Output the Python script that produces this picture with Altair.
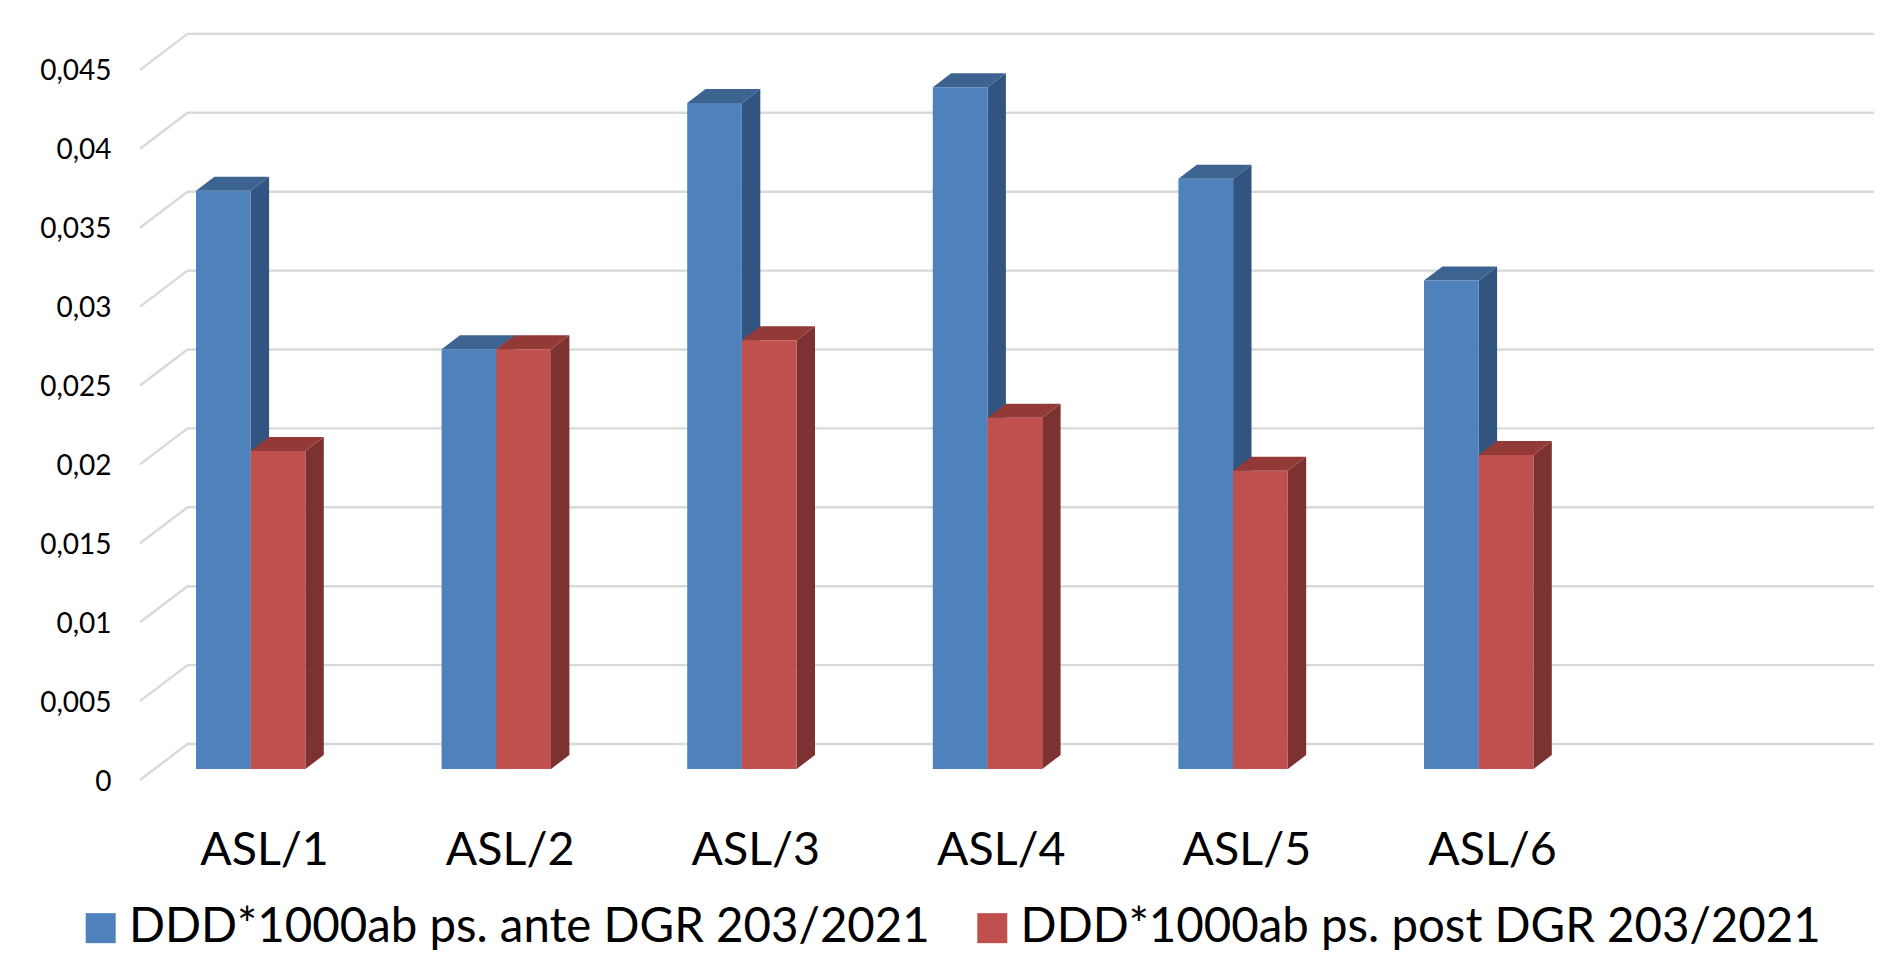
import altair as alt
import pandas as pd

categories = [1, 2, 3, 4, 5, 6]
ante = [0.03665, 0.0266, 0.0422, 0.0432, 0.0374, 0.03095]
post = [0.02015, 0.0266, 0.02717, 0.02226, 0.0189, 0.0199]
ticks = [0, 0.005, 0.01, 0.015, 0.02, 0.025, 0.03, 0.035, 0.04, 0.045]
series_names = ["DDD*1000ab ps. ante DGR 203/2021", "DDD*1000ab ps. post DGR 203/2021"]

W, H = 1866, 945
PX_X = 245.6          # pixels per category
PX_Y = 15780.0        # pixels per unit of value
X0 = 188.0            # plot pixel of category 0's left edge
Y0 = 761.0            # plot pixel of value 0 on the bars' front
BAR = 54.7 / PX_X
DX = 18.4 / PX_X
DY = 14.0 / PX_Y

x_scale = alt.Scale(domain=[-X0 / PX_X, (W - X0) / PX_X], nice=False, zero=False)
y_scale = alt.Scale(domain=[-(H - Y0) / PX_Y, Y0 / PX_Y], nice=False, zero=False)

x_axis = alt.Axis(
    values=[c - 1 for c in categories], labelExpr="'ASL/' + (datum.value + 1)",
    title=None, grid=False, domain=False, ticks=False, labels=True,
    labelFont="Lato", labelFontSize=46.5, labelColor="#000000", labelBaseline="alphabetic",
    labelOffset=68, labelPadding=0, offset=-89, labelFlush=False, labelOverlap=False)
y_axis = alt.Axis(
    values=ticks,
    labelExpr="replace(format(datum.value, '.3~f'), '.', ',')",
    title=None, grid=False, domain=False, ticks=False,
    labelFont="Lato", labelFontSize=28, labelColor="#000000", labelAlign="right",
    labelOffset=13, labelPadding=0, offset=-103, labelFlush=False, labelOverlap=False)

# ---- grid: floor and wall lines
grid_rows = []
for t in ticks:
    grid_rows += [
        {"t": t, "u": -56 / PX_X, "v": t - 11 / PX_Y},
        {"t": t, "u": -8.5 / PX_X, "v": t + 25 / PX_Y},
        {"t": t, "u": (W - X0) / PX_X, "v": t + 25 / PX_Y},
    ]
grid = (
    alt.Chart(pd.DataFrame(grid_rows))
    .mark_line(color="#d9d9d9", strokeWidth=2.4, clip=True)
    .encode(
        x=alt.X("u:Q", scale=x_scale, axis=x_axis),
        y=alt.Y("v:Q", scale=y_scale, axis=y_axis),
        order="u:Q",
        detail="t:N",
    )
)

# ---- bars, each a front face plus a side and a top face
def faces(values, shift):
    side, top, front = [], [], []
    for c, val in zip(categories, values):
        i = c - 1 + shift
        r = i + BAR
        side += [
            {"c": c, "u": r, "lo": 0, "hi": val},
            {"c": c, "u": r + DX, "lo": DY, "hi": val + DY},
        ]
        top += [
            {"c": c, "v": val, "a": i, "b": r},
            {"c": c, "v": val + DY, "a": i + DX, "b": r + DX},
        ]
        front.append({"c": c, "a": i, "b": r, "val": val})
    return pd.DataFrame(side), pd.DataFrame(top), pd.DataFrame(front)

def bar_layers(values, shift, name, side_col, top_col):
    side, top, front = faces(values, shift)
    s = (
        alt.Chart(side).mark_area(color=side_col, orient="vertical")
        .encode(x=alt.X("u:Q", scale=x_scale, axis=x_axis),
                y=alt.Y("lo:Q", scale=y_scale, axis=y_axis, stack=None),
                y2="hi:Q", detail="c:N")
    )
    t = (
        alt.Chart(top).mark_area(color=top_col, orient="horizontal")
        .encode(y=alt.Y("v:Q", scale=y_scale, axis=y_axis),
                x=alt.X("a:Q", scale=x_scale, axis=x_axis, stack=None),
                x2="b:Q", detail="c:N")
    )
    front["series"] = name
    f = (
        alt.Chart(front).mark_bar(strokeWidth=0)
        .encode(
            x=alt.X("a:Q", scale=x_scale, axis=x_axis),
            x2="b:Q",
            y=alt.Y("y0:Q", scale=y_scale, axis=y_axis),
            y2="val:Q",
            color=alt.Color("series:N", scale=alt.Scale(domain=series_names, range=["#4F81BD", "#C0504D"]),
                            legend=alt.Legend(
                                orient="none", legendX=69, legendY=896, direction="horizontal", columns=2,
                                title=None, symbolType="square", symbolSize=900, symbolStrokeWidth=0,
                                labelFont="Lato", labelFontSize=47.4, labelColor="#000000", labelOffset=4.6,
                                columnPadding=38.6, labelLimit=1000)),
        )
        .transform_calculate(y0="0")
    )
    return [s, t, f]

layers = [grid]
layers += bar_layers(ante, 0, series_names[0], "#325480", "#3D6391")
layers += bar_layers(post, BAR, series_names[1], "#7C3230", "#933A39")

chart = (
    alt.layer(*layers)
    .properties(width=W, height=H, padding=0, autosize=alt.AutoSizeParams(type="none"), background="#ffffff")
    .configure_view(stroke=None)
)
chart.save("out.html", embed_options={"renderer": "svg", "actions": False})
